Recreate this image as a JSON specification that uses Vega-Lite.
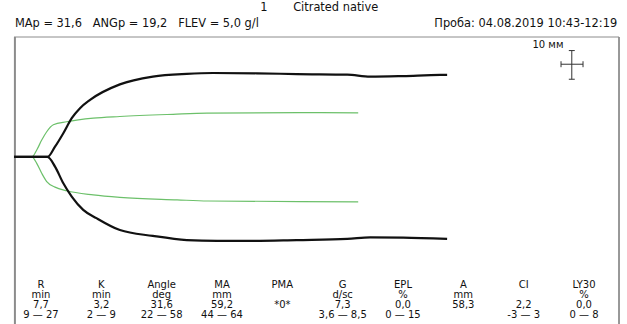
{
  "$schema": "https://vega.github.io/schema/vega-lite/v6.json",
  "width": 605,
  "height": 300,
  "autosize": {"type": "none"},
  "padding": {"left": 14, "top": 37, "right": 8, "bottom": 0},
  "background": "white",
  "config": {"view": {"stroke": null}, "font": "DejaVu Sans"},
  "datasets": {
    "black": [
      {"branch": "up", "t": 0, "a": 0}, {"branch": "up", "t": 7.3, "a": 0}, {"branch": "up", "t": 8.95, "a": 3.7}, {"branch": "up", "t": 10.76, "a": 8.56}, {"branch": "up", "t": 12.6, "a": 14.0}, {"branch": "up", "t": 14.4, "a": 17.6}, {"branch": "up", "t": 16.6, "a": 20.6}, {"branch": "up", "t": 23.1, "a": 26.2}, {"branch": "up", "t": 30.3, "a": 29.0}, {"branch": "up", "t": 37.7, "a": 30.0}, {"branch": "up", "t": 43.4, "a": 30.3}, {"branch": "up", "t": 53.0, "a": 30.2}, {"branch": "up", "t": 61.7, "a": 29.9}, {"branch": "up", "t": 72.7, "a": 29.7}, {"branch": "up", "t": 77.7, "a": 29.0}, {"branch": "up", "t": 84.9, "a": 29.2}, {"branch": "up", "t": 93.0, "a": 29.6}, {"branch": "up", "t": 94.5, "a": 29.6},
      {"branch": "down", "t": 0, "a": 0}, {"branch": "down", "t": 7.3, "a": 0}, {"branch": "down", "t": 8.95, "a": -3.5}, {"branch": "down", "t": 10.76, "a": -9.5}, {"branch": "down", "t": 12.6, "a": -14.3}, {"branch": "down", "t": 15.1, "a": -19.1}, {"branch": "down", "t": 18.0, "a": -22.1}, {"branch": "down", "t": 23.1, "a": -26.4}, {"branch": "down", "t": 30.3, "a": -28.5}, {"branch": "down", "t": 37.7, "a": -30.0}, {"branch": "down", "t": 44.3, "a": -30.3}, {"branch": "down", "t": 51.5, "a": -30.3}, {"branch": "down", "t": 61.7, "a": -30.0}, {"branch": "down", "t": 72.7, "a": -29.6}, {"branch": "down", "t": 77.7, "a": -29.0}, {"branch": "down", "t": 84.9, "a": -29.1}, {"branch": "down", "t": 94.5, "a": -29.6}
    ],
    "green": [
      {"branch": "up", "t": 0, "a": 0}, {"branch": "up", "t": 3.9, "a": 0}, {"branch": "up", "t": 4.96, "a": 2.5}, {"branch": "up", "t": 6.05, "a": 6.1}, {"branch": "up", "t": 7.14, "a": 9.1}, {"branch": "up", "t": 8.58, "a": 11.6}, {"branch": "up", "t": 11.5, "a": 12.7}, {"branch": "up", "t": 17.3, "a": 14.0}, {"branch": "up", "t": 23.1, "a": 14.6}, {"branch": "up", "t": 34.7, "a": 15.4}, {"branch": "up", "t": 42.1, "a": 15.8}, {"branch": "up", "t": 62.4, "a": 16.0}, {"branch": "up", "t": 75.1, "a": 15.9},
      {"branch": "down", "t": 0, "a": 0}, {"branch": "down", "t": 3.9, "a": 0}, {"branch": "down", "t": 4.96, "a": -2.3}, {"branch": "down", "t": 6.05, "a": -5.9}, {"branch": "down", "t": 7.14, "a": -8.9}, {"branch": "down", "t": 8.95, "a": -10.9}, {"branch": "down", "t": 11.5, "a": -12.2}, {"branch": "down", "t": 17.3, "a": -13.7}, {"branch": "down", "t": 23.1, "a": -14.6}, {"branch": "down", "t": 35.6, "a": -15.5}, {"branch": "down", "t": 42.3, "a": -15.9}, {"branch": "down", "t": 62.4, "a": -16.1}, {"branch": "down", "t": 75.1, "a": -16.2}
    ],
    "table": [
      {"param": "R", "row": "name", "label": "R"}, {"param": "R", "row": "unit", "label": "min"}, {"param": "R", "row": "value", "label": "7,7"}, {"param": "R", "row": "norm", "label": "9 — 27"},
      {"param": "K", "row": "name", "label": "K"}, {"param": "K", "row": "unit", "label": "min"}, {"param": "K", "row": "value", "label": "3,2"}, {"param": "K", "row": "norm", "label": "2 — 9"},
      {"param": "Angle", "row": "name", "label": "Angle"}, {"param": "Angle", "row": "unit", "label": "deg"}, {"param": "Angle", "row": "value", "label": "31,6"}, {"param": "Angle", "row": "norm", "label": "22 — 58"},
      {"param": "MA", "row": "name", "label": "MA"}, {"param": "MA", "row": "unit", "label": "mm"}, {"param": "MA", "row": "value", "label": "59,2"}, {"param": "MA", "row": "norm", "label": "44 — 64"},
      {"param": "PMA", "row": "name", "label": "PMA"}, {"param": "PMA", "row": "value", "label": "*0*"},
      {"param": "G", "row": "name", "label": "G"}, {"param": "G", "row": "unit", "label": "d/sc"}, {"param": "G", "row": "value", "label": "7,3"}, {"param": "G", "row": "norm", "label": "3,6 — 8,5"},
      {"param": "EPL", "row": "name", "label": "EPL"}, {"param": "EPL", "row": "unit", "label": "%"}, {"param": "EPL", "row": "value", "label": "0,0"}, {"param": "EPL", "row": "norm", "label": "0 — 15"},
      {"param": "A", "row": "name", "label": "A"}, {"param": "A", "row": "unit", "label": "mm"}, {"param": "A", "row": "value", "label": "58,3"},
      {"param": "CI", "row": "name", "label": "CI"}, {"param": "CI", "row": "value", "label": "2,2"}, {"param": "CI", "row": "norm", "label": "-3 — 3"},
      {"param": "LY30", "row": "name", "label": "LY30"}, {"param": "LY30", "row": "unit", "label": "%"}, {"param": "LY30", "row": "value", "label": "0,0"}, {"param": "LY30", "row": "norm", "label": "0 — 8"}
    ]
  },
  "resolve": {"scale": {"x": "independent", "y": "independent"}},
  "layer": [
    {
      "data": {"values": [{"t": 0.2}]},
      "mark": {"type": "rule", "color": "#8c8c8c", "strokeWidth": 2},
      "encoding": {"x": {"field": "t", "type": "quantitative", "scale": {"domain": [0, 132], "nice": false}, "axis": null}}
    },
    {
      "data": {"values": [{"t": 132}]},
      "mark": {"type": "rule", "color": "#333333", "strokeWidth": 1},
      "encoding": {"x": {"field": "t", "type": "quantitative", "scale": {"domain": [0, 132], "nice": false}, "axis": null}}
    },
    {
      "data": {"values": [{"a": 43.3}]},
      "mark": {"type": "rule", "color": "#8c8c8c", "strokeWidth": 1},
      "encoding": {"y": {"field": "a", "type": "quantitative", "scale": {"domain": [-65, 43.3], "nice": false}, "axis": null}}
    },
    {
      "data": {"name": "green"},
      "mark": {"type": "line", "color": "#6cc06a", "strokeWidth": 1.2, "interpolate": "monotone"},
      "encoding": {
        "x": {"field": "t", "type": "quantitative", "scale": {"domain": [0, 132], "nice": false}, "axis": null},
        "y": {"field": "a", "type": "quantitative", "scale": {"domain": [-65, 43.3], "nice": false}, "axis": null},
        "detail": {"field": "branch"}
      }
    },
    {
      "data": {"name": "black"},
      "mark": {"type": "line", "color": "#111111", "strokeWidth": 2.2, "interpolate": "monotone"},
      "encoding": {
        "x": {"field": "t", "type": "quantitative", "scale": {"domain": [0, 132], "nice": false}, "axis": null},
        "y": {"field": "a", "type": "quantitative", "scale": {"domain": [-65, 43.3], "nice": false}, "axis": null},
        "detail": {"field": "branch"}
      }
    },
    {
      "data": {"values": [
        {"t": 121.7, "t2": 121.7, "a": 38.4, "a2": 28.05},
        {"t": 119.35, "t2": 124.15, "a": 33.47, "a2": 33.47},
        {"t": 121.05, "t2": 122.35, "a": 38.4, "a2": 38.4},
        {"t": 121.05, "t2": 122.35, "a": 28.05, "a2": 28.05},
        {"t": 119.35, "t2": 119.35, "a": 32.4, "a2": 34.55},
        {"t": 124.15, "t2": 124.15, "a": 32.4, "a2": 34.55}
      ]},
      "mark": {"type": "rule", "color": "#333333", "strokeWidth": 1},
      "encoding": {
        "x": {"field": "t", "type": "quantitative", "scale": {"domain": [0, 132], "nice": false}, "axis": null},
        "x2": {"field": "t2"},
        "y": {"field": "a", "type": "quantitative", "scale": {"domain": [-65, 43.3], "nice": false}, "axis": null},
        "y2": {"field": "a2"}
      }
    },
    {
      "data": {"values": [{"t": 116.5, "a": 39.2, "label": "10 мм"}]},
      "mark": {"type": "text", "fontSize": 10, "align": "center", "baseline": "alphabetic", "color": "#111"},
      "encoding": {
        "x": {"field": "t", "type": "quantitative", "scale": {"domain": [0, 132], "nice": false}, "axis": null},
        "y": {"field": "a", "type": "quantitative", "scale": {"domain": [-65, 43.3], "nice": false}, "axis": null},
        "text": {"field": "label"}
      }
    },
    {
      "data": {"values": [
        {"t": 53.7, "a": 52.8, "label": "1"},
        {"t": 60.9, "a": 52.8, "label": "Citrated native"},
        {"t": 0.2, "a": 46.9, "label": "MAp = 31,6\u00a0\u00a0\u00a0ANGp = 19,2\u00a0\u00a0\u00a0FLEV = 5,0 g/l"}
      ]},
      "mark": {"type": "text", "fontSize": 11.4, "align": "left", "baseline": "alphabetic", "color": "#111"},
      "encoding": {
        "x": {"field": "t", "type": "quantitative", "scale": {"domain": [0, 132], "nice": false}, "axis": null},
        "y": {"field": "a", "type": "quantitative", "scale": {"domain": [-65, 43.3], "nice": false}, "axis": null},
        "text": {"field": "label"}
      }
    },
    {
      "data": {"values": [{"t": 131.6, "a": 46.9, "label": "Проба: 04.08.2019 10:43-12:19"}]},
      "mark": {"type": "text", "fontSize": 11.4, "align": "right", "baseline": "alphabetic", "color": "#111"},
      "encoding": {
        "x": {"field": "t", "type": "quantitative", "scale": {"domain": [0, 132], "nice": false}, "axis": null},
        "y": {"field": "a", "type": "quantitative", "scale": {"domain": [-65, 43.3], "nice": false}, "axis": null},
        "text": {"field": "label"}
      }
    },
    {
      "data": {"name": "table"},
      "mark": {"type": "text", "fontSize": 10, "align": "center", "baseline": "alphabetic", "color": "#111"},
      "encoding": {
        "x": {"field": "param", "type": "nominal", "scale": {"type": "point", "domain": ["R", "K", "Angle", "MA", "PMA", "G", "EPL", "A", "CI", "LY30"], "range": [27, 570], "padding": 0}, "axis": null},
        "y": {"field": "row", "type": "nominal", "scale": {"type": "point", "domain": ["name", "unit", "value", "norm"], "range": [251, 281], "padding": 0}, "axis": null},
        "text": {"field": "label"}
      }
    }
  ]
}
